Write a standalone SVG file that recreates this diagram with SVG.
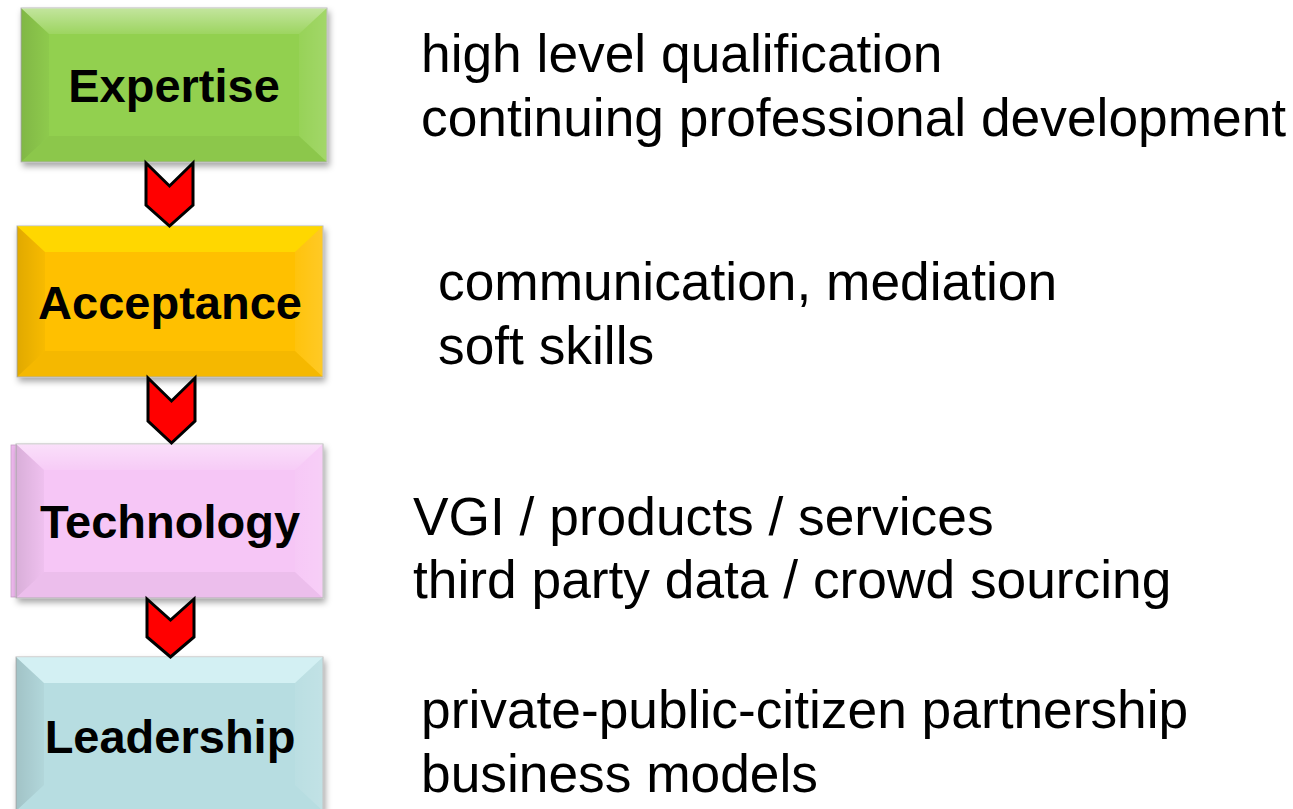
<svg xmlns="http://www.w3.org/2000/svg" width="1293" height="809" viewBox="0 0 1293 809">
<style>
.lbl{font-family:"Liberation Sans",Arial,sans-serif;font-weight:bold;font-size:47px;fill:#000;text-anchor:middle}
.txt{font-family:"Liberation Sans",Arial,sans-serif;font-size:53.3px;fill:#000}
.box{stroke:#b8b8b8;stroke-width:1;filter:url(#sh)}
.arr{fill:#ff0000;stroke:#000;stroke-width:3;stroke-linejoin:miter}
.bt{fill:url(#gTop)}
.bl{fill:url(#gLeft)}
.br{fill:url(#gRight)}
.bb{fill:#000;fill-opacity:0.04}
</style>
<defs>
<filter id="sh" x="-10%" y="-10%" width="125%" height="130%">
<feDropShadow dx="2" dy="4" stdDeviation="3" flood-color="#000" flood-opacity="0.35"/>
</filter>
<linearGradient id="gTop" x1="0" y1="0" x2="0" y2="1">
<stop offset="0" stop-color="#fff" stop-opacity="0.45"/>
<stop offset="1" stop-color="#fff" stop-opacity="0.1"/>
</linearGradient>
<linearGradient id="gLeft" x1="0" y1="0" x2="1" y2="0">
<stop offset="0" stop-color="#000" stop-opacity="0.12"/>
<stop offset="1" stop-color="#000" stop-opacity="0.03"/>
</linearGradient>
<linearGradient id="gRight" x1="0" y1="0" x2="1" y2="0">
<stop offset="0" stop-color="#fff" stop-opacity="0.05"/>
<stop offset="1" stop-color="#fff" stop-opacity="0.15"/>
</linearGradient>
</defs>
<rect width="1293" height="809" fill="#fff"/>

<g id="node-expertise">
<rect class="box" x="21" y="8" width="306" height="154" fill="#92d050"/>
<polygon class="bt" points="21,8 327,8 299,34 49,34"/>
<polygon class="bl" points="21,8 49,34 49,136 21,162"/>
<polygon class="br" points="327,8 299,34 299,136 327,162"/>
<polygon class="bb" points="21,162 49,136 299,136 327,162"/>
<text class="lbl" x="174" y="102">Expertise</text>
</g>

<g id="node-acceptance">
<rect class="box" x="17" y="226" width="306" height="151" fill="#ffc000"/>
<polygon class="bt" points="17,226 323,226 295,252 45,252" style="fill:#ffe600;fill-opacity:0.6"/>
<polygon class="bl" points="17,226 45,252 45,351 17,377"/>
<polygon class="br" points="323,226 295,252 295,351 323,377"/>
<polygon class="bb" points="17,377 45,351 295,351 323,377"/>
<text class="lbl" x="170" y="319">Acceptance</text>
</g>

<g id="node-technology">
<rect x="11" y="445" width="6" height="152" fill="#efb8ef" stroke="#c8a0c8" stroke-width="0.8"/>
<rect class="box" x="16" y="444" width="307" height="154" fill="#f6c6f6"/>
<polygon class="bt" points="16,444 323,444 295,470 44,470"/>
<polygon class="bl" points="16,444 44,470 44,572 16,598"/>
<polygon class="br" points="323,444 295,470 295,572 323,598"/>
<polygon class="bb" points="16,598 44,572 295,572 323,598"/>
<text class="lbl" x="170" y="538">Technology</text>
</g>

<g id="node-leadership">
<rect class="box" x="16" y="657" width="307" height="154" fill="#b7dde1"/>
<polygon class="bt" points="16,657 323,657 295,683 44,683" style="fill:#e6fdff;fill-opacity:0.6"/>
<polygon class="bl" points="16,657 44,683 44,785 16,811"/>
<polygon class="br" points="323,657 295,683 295,785 323,811"/>
<text class="lbl" x="170" y="753">Leadership</text>
</g>

<g id="connectors">
<polygon class="arr" points="146,163 169.5,186 193,163 193,205 169.5,226 146,205"/>
<polygon class="arr" points="148,378 171.5,401 195,378 195,421 171.5,443 148,421"/>
<polygon class="arr" points="147,599 170.5,620 194,599 194,637 170.5,657 147,637"/>
</g>

<g id="desc-expertise">
<text class="txt" x="421" y="72">high level qualification</text>
<text class="txt" x="421" y="136">continuing professional development</text>
</g>
<g id="desc-acceptance">
<text class="txt" x="438" y="300">communication, mediation</text>
<text class="txt" x="438" y="364">soft skills</text>
</g>
<g id="desc-technology">
<text class="txt" x="413" y="535">VGI / products / services</text>
<text class="txt" x="413" y="598">third party data / crowd sourcing</text>
</g>
<g id="desc-leadership">
<text class="txt" x="421" y="728">private-public-citizen partnership</text>
<text class="txt" x="421" y="792">business models</text>
</g>
</svg>
